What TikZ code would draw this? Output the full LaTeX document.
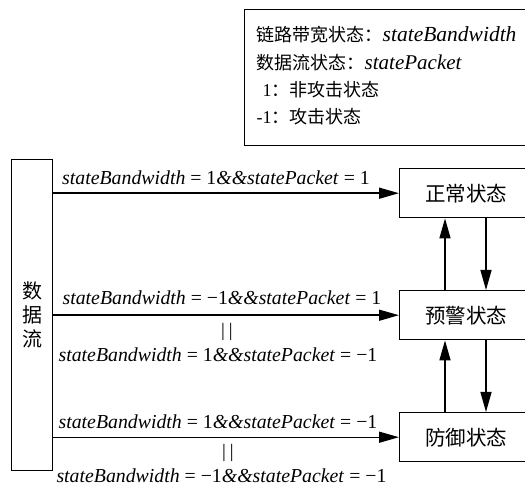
\documentclass[tikz,border=0pt]{standalone}
\usepackage{fontspec}
\setmainfont{Liberation Serif}
\newfontfamily\cjk{Noto Sans CJK SC}
\usetikzlibrary{arrows.meta}
\newcommand\condlbl[2]{\textit{stateBandwidth} = #1\textit{\&\&statePacket} = #2}
\begin{document}
\begin{tikzpicture}[x=1pt,y=-1pt,line width=1.4pt,
  statebox/.style={draw,minimum width=133pt,minimum height=49pt,inner sep=0pt,anchor=north west,font=\cjk\fontsize{20.5}{20.5}\selectfont},
  flowbox/.style={draw,minimum width=41pt,minimum height=311pt,inner sep=0pt,anchor=north west,align=center,font=\cjk\fontsize{20}{24}\selectfont},
  legbox/.style={draw,minimum width=291pt,minimum height=136pt,inner sep=0pt,anchor=north west},
  legtext/.style={anchor=west,align=left,inner sep=0pt,font=\fontsize{18}{27.3}\selectfont},
  legit/.style={},
  cond/.style={inner sep=0pt,font=\fontsize{19.8}{19.8}\selectfont},
  orbar/.style={inner sep=0pt,font=\fontsize{19}{19}\selectfont},
  arr/.style={-{Triangle[length=20pt,width=11pt]}}]
\useasboundingbox (0,0) rectangle (525,486);
% legend
\node[legbox] (leg) at (244,9) {};
\node[legtext] (legt) at (256,76) {{\cjk 链路带宽状态：}{\fontsize{21.5}{27.3}\selectfont\textit{stateBandwidth}}\\
{\cjk 数据流状态：}{\fontsize{21}{27.3}\selectfont\textit{statePacket}}\\
\hspace*{6pt}1{\cjk ：非攻击状态}\\
-1{\cjk ：攻击状态}};
% data flow box
\node[flowbox] (flow) at (11,159) {数\\据\\流};
% state boxes
\node[statebox] (n1) at (399,168) {正常状态};
\node[statebox] (n2) at (399,290) {预警状态};
\node[statebox] (n3) at (399,412) {防御状态};
% horizontal arrows
\draw[arr] (flow.east |- n1.west) -- (n1.west);
\draw[arr] (flow.east |- n2.west) -- (n2.west);
\draw[arr] (flow.east |- n3.west) -- (n3.west);
% vertical arrows
\draw[arr] ([xshift=46pt]n2.north west) -- ([xshift=46pt]n1.south west);
\draw[arr] ([xshift=87pt]n1.south west) -- ([xshift=87pt]n2.north west);
\draw[arr] ([xshift=46pt]n3.north west) -- ([xshift=46pt]n2.south west);
\draw[arr] ([xshift=87pt]n2.south west) -- ([xshift=87pt]n3.north west);
% labels
\node[cond] (c1) at (216,178) {\condlbl{1}{1}};
\node[cond] (c2a) at (222,298) {\condlbl{−1}{1}};
\node[orbar] (o2) at (227,332) {|\hspace{4pt}|};
\node[cond] (c2b) at (218,355) {\condlbl{1}{−1}};
\node[cond] (c3a) at (218,422) {\condlbl{1}{−1}};
\node[orbar] (o3) at (228,453) {|\hspace{4pt}|};
\node[cond] (c3b) at (221.5,476) {\condlbl{−1}{−1}};
\end{tikzpicture}
\end{document}
